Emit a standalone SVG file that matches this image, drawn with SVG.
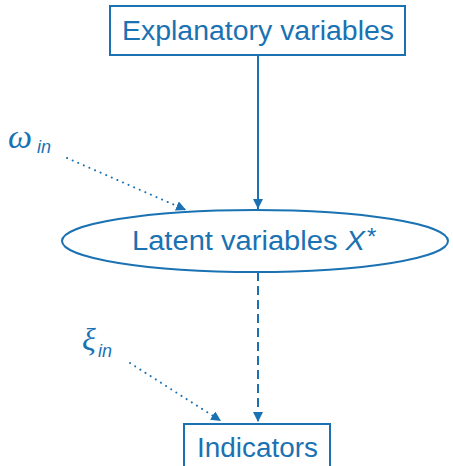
<svg xmlns="http://www.w3.org/2000/svg" width="453" height="466" viewBox="0 0 453 466">
<style>
.s{fill:none;stroke:#1a72b3;stroke-width:2}
.t{font-family:"Liberation Sans","DejaVu Sans",sans-serif;fill:#1a72b3}
.m{font-family:"Liberation Serif","DejaVu Serif",serif;font-style:italic;fill:#1a72b3}
.i{font-style:italic}
.d{fill:none;stroke:#1a72b3;stroke-width:2;stroke-dasharray:0.1 6;stroke-linecap:round}
</style>
<defs>
<marker id="ah2" viewBox="0 0 10 10" refX="10" refY="5" markerWidth="10" markerHeight="10" markerUnits="userSpaceOnUse" orient="auto">
<path d="M0,0 L10,5 L0,10 Z" fill="#1a72b3"/>
</marker>
</defs>
<g id="connectors">
<line class="s" x1="258" y1="56" x2="258" y2="209" marker-end="url(#ah2)"/>
<line class="s" x1="258" y1="272" x2="258" y2="422" stroke-dasharray="9 5" marker-end="url(#ah2)"/>
<line class="d" x1="67" y1="158" x2="186" y2="210" marker-end="url(#ah2)"/>
<line class="d" x1="130" y1="363" x2="221" y2="421" marker-end="url(#ah2)"/>
</g>
<g id="explanatory">
<rect class="s" x="110" y="6" width="295" height="49"/>
<text class="t" x="258" y="40" font-size="27" text-anchor="middle" textLength="272" lengthAdjust="spacingAndGlyphs">Explanatory variables</text>
</g>
<g id="latent">
<ellipse class="s" cx="255" cy="241" rx="193" ry="31"/>
<text class="t" x="132" y="250" font-size="27" textLength="233" lengthAdjust="spacingAndGlyphs">Latent variables <tspan class="i">X</tspan></text>
<text class="t" x="367" y="245" font-size="24">*</text>
</g>
<g id="indicators">
<rect class="s" x="184" y="424" width="146" height="50"/>
<text class="t" x="197" y="457" font-size="27" textLength="121" lengthAdjust="spacingAndGlyphs">Indicators</text>
</g>
<g id="omega">
<text class="m" x="8" y="148" font-size="34">ω</text>
<text class="t i" x="37" y="153" font-size="18">in</text>
</g>
<g id="xi">
<text class="m" x="82" y="350" font-size="32">ξ</text>
<text class="t i" x="98" y="357" font-size="18">in</text>
</g>
</svg>
